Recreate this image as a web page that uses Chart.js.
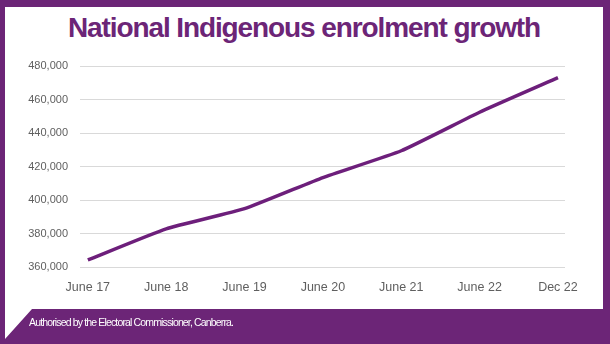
<!DOCTYPE html>
<html>
<head>
<meta charset="utf-8">
<script src="https://cdn.jsdelivr.net/npm/chart.js@4/dist/chart.umd.min.js"></script>
<style>
    html, body {
        margin: 0;
        padding: 0;
        width: 610px;
        height: 344px;
        overflow: hidden;
        background: #6c2577;
        font-family: 'Liberation Sans', Arial, sans-serif;
    }
    /* white card with the speech-bubble tail at bottom left */
    .card {
        position: absolute;
        left: 0;
        top: 0;
        width: 610px;
        height: 344px;
        background: #ffffff;
        clip-path: polygon(5px 7px, 603px 7px, 603px 309px, 32px 309px, 5px 339px);
    }
    .title {
        position: absolute;
        left: 0;
        top: 14px;
        width: 608px;
        text-align: center;
        font-size: 28px;
        line-height: 28px;
        font-weight: bold;
        letter-spacing: -1.1px;
        color: #6c2577;
    }
    .footer {
        position: absolute;
        left: 29px;
        top: 317px;
        font-size: 10.5px;
        line-height: 10.5px;
        letter-spacing: -0.85px;
        color: #ffffff;
    }
    .chart-wrap {
        position: absolute;
        left: 0;
        top: 0;
        width: 610px;
        height: 344px;
    }
</style>
</head>
<body>
<div class="card"></div>
<div class="title">National Indigenous enrolment growth</div>
<div class="chart-wrap"><canvas id="chart" width="610" height="344"></canvas></div>
<div class="footer">Authorised by the Electoral Commissioner, Canberra.</div>

<script>
// enrolment snapshots
const periods = ['June 17', 'June 18', 'June 19', 'June 20', 'June 21', 'June 22', 'Dec 22'];
const enrolments = [364200, 382800, 394800, 413400, 429400, 452400, 473000];
const yTicks = [360000, 380000, 400000, 420000, 440000, 460000, 480000];

const purple = '#6d1f7b';
const labelColor = '#5f5f5f';

const points = periods.map((p, i) => ({ x: i, y: enrolments[i] }));

new Chart(document.getElementById('chart'), {
    type: 'line',
    data: {
        datasets: [
            {
                label: 'Indigenous enrolment',
                data: points,
                borderColor: purple,
                borderWidth: 3.5,
                pointRadius: 0,
                tension: 0.15,
                fill: false
            }
        ]
    },
    options: {
        responsive: false,
        animation: false,
        layout: {
            padding: { left: 0, top: 66, right: 45, bottom: 47 }
        },
        plugins: {
            legend: { display: false },
            tooltip: { enabled: false }
        },
        scales: {
            x: {
                type: 'linear',
                min: -0.1,
                max: 6.09,
                afterBuildTicks: scale => {
                    scale.ticks = periods.map((p, i) => ({ value: i }));
                },
                afterFit: scale => {
                    scale.height = 30;
                },
                grid: { display: false },
                border: { display: false },
                ticks: {
                    autoSkip: false,
                    maxRotation: 0,
                    padding: 5,
                    color: labelColor,
                    font: { family: 'Liberation Sans', size: 12.5 },
                    callback: v => periods[v]
                }
            },
            y: {
                min: yTicks[0],
                max: yTicks[yTicks.length - 1],
                afterBuildTicks: scale => {
                    scale.ticks = yTicks.map(v => ({ value: v }));
                },
                afterFit: scale => {
                    scale.width = 80;
                },
                grid: {
                    color: '#d9d9d9',
                    lineWidth: 1,
                    drawTicks: false
                },
                border: { display: false },
                ticks: {
                    padding: 12,
                    color: labelColor,
                    font: { family: 'Liberation Sans', size: 11 },
                    callback: v => v.toLocaleString('en-AU')
                }
            }
        }
    }
});
</script>
</body>
</html>
